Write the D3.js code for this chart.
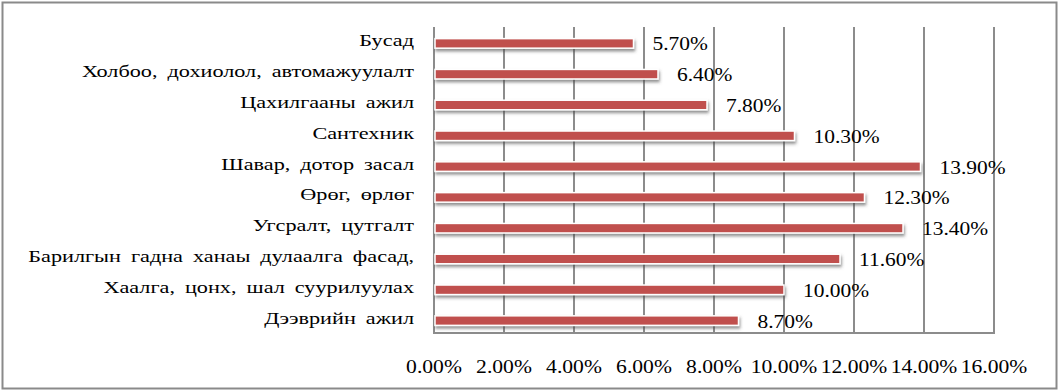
<!DOCTYPE html>
<html><head><meta charset="utf-8">
<script src="https://cdn.jsdelivr.net/npm/d3@7/dist/d3.min.js"></script>
<style>
html,body{margin:0;padding:0;background:#fff;}
svg{display:block;}
</style></head>
<body>
<svg id="chart" width="1060" height="392"></svg>
<script>
const categories = [
  "Бусад",
  "Холбоо, дохиолол, автомажуулалт",
  "Цахилгааны ажил",
  "Сантехник",
  "Шавар, дотор засал",
  "Өрөг, өрлөг",
  "Угсралт, цутгалт",
  "Барилгын гадна ханаы дулаалга фасад,",
  "Хаалга, цонх, шал суурилуулах",
  "Дээврийн ажил"
];
const values = [5.7, 6.4, 7.8, 10.3, 13.9, 12.3, 13.4, 11.6, 10.0, 8.7];
const tickValues = [0, 2, 4, 6, 8, 10, 12, 14, 16];

const FONT = "'Liberation Serif', Tinos, 'Times New Roman', serif";
const svg = d3.select("#chart");
const plot = {left: 434, right: 994, top: 27, bottom: 333};

svg.append("rect").attr("x", 2.5).attr("y", 2.5).attr("width", 1054).attr("height", 386)
  .attr("fill", "#fff").attr("stroke", "#8a8a8a").attr("stroke-width", 2);

const defs = svg.append("defs");
const f = defs.append("filter").attr("id", "sh").attr("x", "-5%").attr("y", "-60%").attr("width", "110%").attr("height", "260%");
f.append("feDropShadow").attr("dx", 1).attr("dy", 2.5).attr("stdDeviation", 1.6)
  .attr("flood-color", "#444").attr("flood-opacity", 0.6);

const x = d3.scaleLinear().domain([0, 16]).range([plot.left, plot.right]);
const y = d3.scaleBand().domain(categories).range([28, 336]).paddingInner(0.69).paddingOuter(0.345);

svg.append("g").selectAll("line").data(tickValues).join("line")
  .attr("x1", d => x(d)).attr("x2", d => x(d))
  .attr("y1", plot.top).attr("y2", plot.bottom)
  .attr("stroke", "#8c8c8c").attr("stroke-width", 2);
svg.append("line").attr("x1", x(0) - 1).attr("x2", x(16) + 1)
  .attr("y1", plot.bottom).attr("y2", plot.bottom)
  .attr("stroke", "#8c8c8c").attr("stroke-width", 2);

svg.append("g").selectAll("rect").data(values).join("rect")
  .attr("x", x(0) + 1)
  .attr("y", (d, i) => y(categories[i]))
  .attr("width", d => x(d) - x(0) - 1)
  .attr("height", y.bandwidth())
  .attr("fill", "#C0504D")
  .attr("stroke", "#fff").attr("stroke-width", 1.5)
  .attr("filter", "url(#sh)");

svg.append("g").selectAll("text").data(values).join("text")
  .attr("transform", (d, i) => `translate(${x(d) + 19},${y(categories[i]) + y.bandwidth() / 2 + 7}) scale(1.13,1)`)
  .attr("font-family", FONT)
  .attr("font-size", 19)
  .text(d => d.toFixed(2) + "%");

svg.append("g").selectAll("text").data(categories).join("text")
  .attr("transform", d => `translate(414,${y(d) + y.bandwidth() / 2 + 3}) scale(1.27,1)`)
  .attr("text-anchor", "end")
  .attr("font-family", FONT)
  .attr("font-size", 17.5)
  .attr("word-spacing", 3.5)
  .text(d => d);

svg.append("g").selectAll("text").data(tickValues).join("text")
  .attr("transform", d => `translate(${x(d)},373) scale(1.2,1)`)
  .attr("text-anchor", "middle")
  .attr("font-family", FONT)
  .attr("font-size", 18)
  .text(d => d.toFixed(2) + "%");
</script>
</body></html>
